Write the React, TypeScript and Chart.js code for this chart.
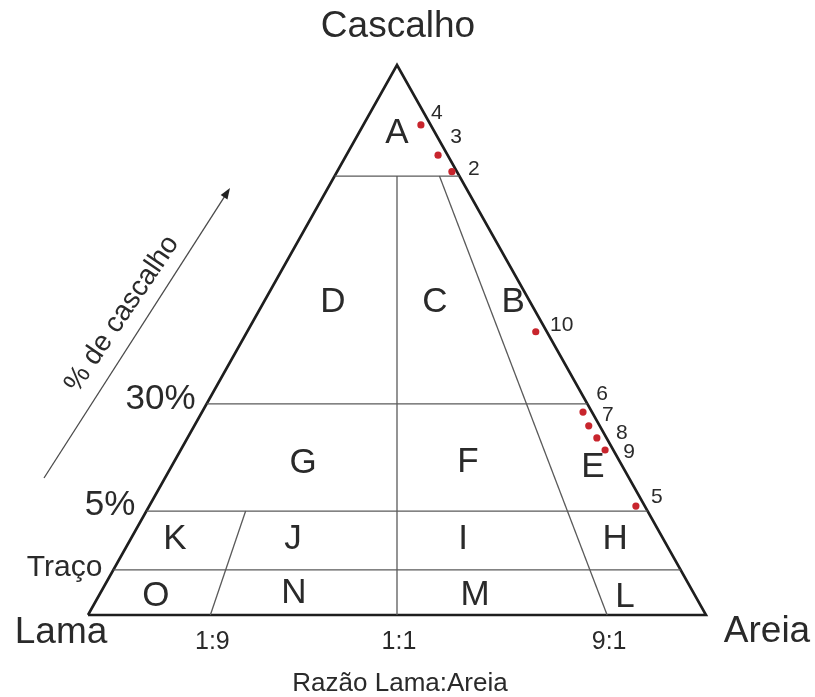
import React, { useEffect, useRef } from "react";
import { Chart, registerables } from "chart.js";
Chart.register(...registerables);

const W = 815;
const H = 697;

// Gravel levels: schematic height (fraction of triangle height) of each boundary
const gravelLabels = ["Traço", "5%", "30%", "80%"];
const gravelLevels = [0.082, 0.189, 0.384, 0.798];
const gravelLabelShown = [true, true, true, false];
const gravelLabelDy = [-2, -6, -4, 0];

// Mud:sand ratio boundaries (schematic position along the base)
const ratioLabels = ["1:9", "1:1", "9:1"];
const ratioPositions = [0.198, 0.5, 0.84];
const ratioTopLevelIndex = [1, 3, 3];

// Samples: position along the mud-sand ratio and schematic gravel height
const sampleIds = ["2", "3", "4", "5", "6", "7", "8", "9", "10"];
const sampleRatio = [0.958, 0.905, 0.855, 0.982, 0.977, 0.973, 0.977, 0.981, 0.963];
const sampleGravel = [0.806, 0.836, 0.891, 0.198, 0.369, 0.344, 0.322, 0.3, 0.515];
const sampleLabelDx = [22, 18, 16, 21, 19, 19, 25, 24, 26];
const sampleLabelDy = [-2, -18, -12, -9, -18, -11, -5, 2, -7];

// Class letters and their places in the plot (x along base, y up)
const classNames = ["A", "B", "C", "D", "E", "F", "G", "H", "I", "J", "K", "L", "M", "N", "O"];
const classX = [0.5, 0.688, 0.5615, 0.3964, 0.8172, 0.6149, 0.3479, 0.8528, 0.6068, 0.3317, 0.1408, 0.8689, 0.6262, 0.3333, 0.11];
const classY = [0.876, 0.569, 0.569, 0.569, 0.2691, 0.2782, 0.2764, 0.1382, 0.1382, 0.1382, 0.1382, 0.0327, 0.0364, 0.04, 0.0345];

const endMembers = ["Lama", "Areia", "Cascalho"];
const axisTitle = "Razão Lama:Areia";
const gravelAxisTitle = "% de cascalho";

const APEX_X = 0.5;
const tern = (b: number, h: number) => ({ x: b * (1 - h) + APEX_X * h, y: h });

const INK = "#2a2a2a";
const FONT = "'Liberation Sans', Arial, sans-serif";

const textPlugin = {
  id: "ternaryText",
  afterDatasetsDraw(chart: any) {
    const { ctx } = chart;
    const sx = chart.scales.x;
    const sy = chart.scales.y;
    const px = (v: number) => sx.getPixelForValue(v);
    const py = (v: number) => sy.getPixelForValue(v);
    ctx.save();
    ctx.fillStyle = INK;
    ctx.textAlign = "center";
    ctx.textBaseline = "middle";

    // class letters
    ctx.font = `35px ${FONT}`;
    classNames.forEach((n, i) => ctx.fillText(n, px(classX[i]), py(classY[i])));

    // end members
    ctx.font = `37px ${FONT}`;
    ctx.fillText(endMembers[0], px(0) - 27, py(0) + 18);
    ctx.fillText(endMembers[1], px(1) + 61, py(0) + 17);
    ctx.fillText(endMembers[2], px(APEX_X) + 1, py(1) - 38);

    // gravel labels on left edge
    gravelLabels.forEach((l, i) => {
      if (!gravelLabelShown[i]) return;
      const p = tern(0, gravelLevels[i]);
      ctx.font = i === 0 ? `30px ${FONT}` : `35px ${FONT}`;
      ctx.textAlign = "right";
      ctx.fillText(l, px(p.x) - 11, py(p.y) + gravelLabelDy[i]);
    });

    // ratio labels
    ctx.textAlign = "center";
    ctx.font = `25px ${FONT}`;
    ratioLabels.forEach((l, i) => ctx.fillText(l, px(ratioPositions[i]) + 2, py(0) + 27));
    ctx.font = `26px ${FONT}`;
    ctx.fillText(axisTitle, px(0.5) + 3, py(0) + 69);

    // sample labels
    ctx.font = `21px ${FONT}`;
    sampleIds.forEach((id, i) => {
      const p = tern(sampleRatio[i], sampleGravel[i]);
      ctx.fillText(id, px(p.x) + sampleLabelDx[i], py(p.y) + sampleLabelDy[i]);
    });

    // gravel arrow
    const x0 = 44, y0 = 478, x1 = 230, y1 = 188;
    const ang = Math.atan2(y1 - y0, x1 - x0);
    ctx.strokeStyle = "#4a4a4a";
    ctx.lineWidth = 1.3;
    ctx.beginPath();
    ctx.moveTo(x0, y0);
    ctx.lineTo(x1 - 6 * Math.cos(ang), y1 - 6 * Math.sin(ang));
    ctx.stroke();
    ctx.fillStyle = "#222";
    ctx.beginPath();
    ctx.moveTo(x1, y1);
    ctx.lineTo(x1 - 11 * Math.cos(ang) + 4 * Math.sin(ang), y1 - 11 * Math.sin(ang) - 4 * Math.cos(ang));
    ctx.lineTo(x1 - 11 * Math.cos(ang) - 4 * Math.sin(ang), y1 - 11 * Math.sin(ang) + 4 * Math.cos(ang));
    ctx.closePath();
    ctx.fill();

    // arrow text
    ctx.fillStyle = INK;
    ctx.save();
    ctx.translate(122, 314);
    ctx.rotate(-56 * Math.PI / 180);
    ctx.font = `28px ${FONT}`;
    ctx.textAlign = "center";
    ctx.fillText(gravelAxisTitle, 0, 0);
    ctx.restore();

    ctx.restore();
  },
};

export default function App() {
  const ref = useRef<HTMLCanvasElement | null>(null);
  useEffect(() => {
    if (!ref.current) return;
    const lineDs = (pts: { x: number; y: number }[], width: number, color: string) => ({
      type: "scatter" as const,
      data: pts,
      showLine: true,
      borderColor: color,
      borderWidth: width,
      pointRadius: 0,
      clip: false as any,
      order: 2,
    });
    const datasets: any[] = [];
    // horizontal gravel boundaries
    gravelLevels.forEach((g) => datasets.push(lineDs([tern(0, g), tern(1, g)], 1.3, "#5a5a5a")));
    // ratio boundaries
    ratioPositions.forEach((r, i) =>
      datasets.push(lineDs([tern(r, 0), tern(r, gravelLevels[ratioTopLevelIndex[i]])], 1.3, "#5a5a5a"))
    );
    // outline
    datasets.push(lineDs([tern(0, 0), tern(1, 0), tern(1, 1), tern(0, 0)], 2.6, "#1e1e1e"));
    // samples
    datasets.push({
      type: "scatter",
      data: sampleIds.map((_, i) => tern(sampleRatio[i], sampleGravel[i])),
      pointRadius: 3.6,
      pointBackgroundColor: "#c8252d",
      pointBorderWidth: 0,
      showLine: false,
      clip: false,
      order: 0,
    });

    const chart = new Chart(ref.current, {
      type: "scatter",
      data: { datasets },
      options: {
        responsive: false,
        animation: false,
        devicePixelRatio: 1,
        layout: { padding: { left: 88, right: W - 706, top: 65, bottom: H - 615 } },
        plugins: { legend: { display: false }, tooltip: { enabled: false } },
        scales: {
          x: { type: "linear", min: 0, max: 1, display: false },
          y: { type: "linear", min: 0, max: 1, display: false },
        },
      },
      plugins: [textPlugin],
    });
    return () => chart.destroy();
  }, []);
  return (
    <div style={{ position: "absolute", left: 0, top: 0, width: W, height: H, background: "#fff" }}>
      <canvas ref={ref} width={W} height={H} style={{ width: W, height: H, display: "block" }} />
    </div>
  );
}
